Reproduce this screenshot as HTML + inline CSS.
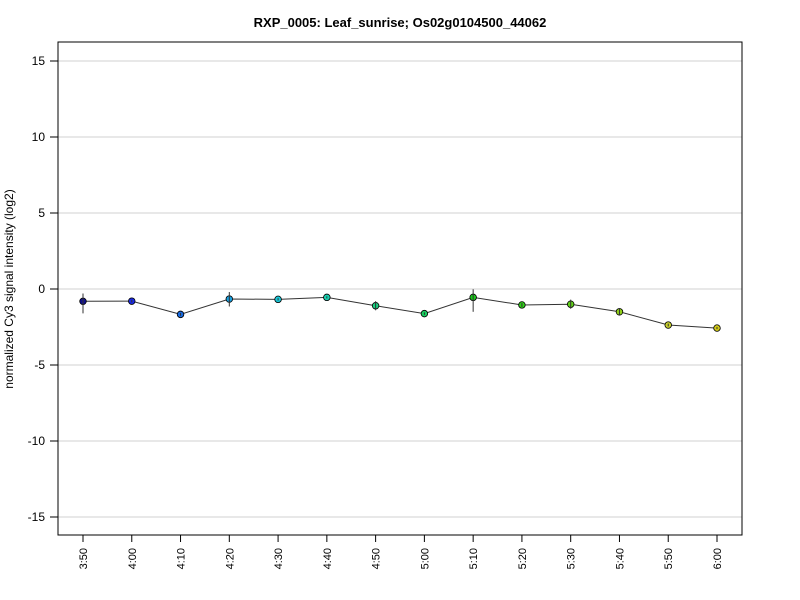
<!DOCTYPE html>
<html><head><meta charset="utf-8"><style>
body{margin:0;background:#fff;}
svg{display:block;font-family:"Liberation Sans",sans-serif;}
</style></head><body>
<svg id="chart" width="800" height="600">
<text x="400" y="27" text-anchor="middle" font-size="13" font-weight="bold">RXP_0005: Leaf_sunrise; Os02g0104500_44062</text>
<text transform="translate(13,289) rotate(-90)" text-anchor="middle" font-size="12">normalized Cy3 signal intensity (log2)</text>
<g id="grid"></g><g id="axes"></g><g id="series"></g>
<rect x="58" y="42" width="684" height="493" fill="none" stroke="#000"/>
</svg>
<script>
const categories=["3:50","4:00","4:10","4:20","4:30","4:40","4:50","5:00","5:10","5:20","5:30","5:40","5:50","6:00"];
const values=[-0.81,-0.8,-1.67,-0.66,-0.68,-0.55,-1.1,-1.62,-0.55,-1.05,-1.0,-1.5,-2.37,-2.57];
const errHigh=[-0.3,-0.72,-1.58,-0.2,-0.6,-0.48,-0.8,-1.54,-0.02,-0.92,-0.7,-1.25,-2.28,-2.5];
const errLow=[-1.6,-0.88,-1.76,-1.15,-0.76,-0.62,-1.4,-1.7,-1.5,-1.18,-1.3,-1.75,-2.46,-2.64];
const colors=["#101090","#1a2ae0","#1a6be0","#19a0e0","#19c8d8","#19d0b0","#19d080","#19d060","#19c81a","#30d019","#60d019","#90d019","#c8d030","#d0c819"];
const yTicks=[-15,-10,-5,0,5,10,15];
const NS="http://www.w3.org/2000/svg";
const x=i=>83+i*(717-83)/(categories.length-1);
const y=v=>289-v*15.2;
function mk(tag,attrs,parent){const e=document.createElementNS(NS,tag);for(const k in attrs)e.setAttribute(k,attrs[k]);parent.appendChild(e);return e;}
const grid=document.getElementById('grid'),axes=document.getElementById('axes'),ser=document.getElementById('series');
yTicks.forEach(t=>{
 const g=mk('line',{x1:58,x2:742,y1:y(t),y2:y(t),stroke:'#d0d0d0'},grid);
 
 
 const tk=mk('line',{x1:50,x2:58,y1:y(t),y2:y(t),stroke:'#000'},axes);
 
 
 const tx=mk('text',{x:45,y:y(t)+4,'text-anchor':'end','font-size':12},axes);
 tx.textContent=t;
 
 
});
const ax=mk('line',{x1:x(0),x2:x(categories.length-1),y1:535,y2:535,stroke:'#000'},axes);


categories.forEach((c,i)=>{
 const tk=mk('line',{x1:x(i),x2:x(i),y1:535,y2:542,stroke:'#000'},axes);
 
 
 const tx=mk('text',{transform:`translate(${x(i)+4},548) rotate(-90)`,'text-anchor':'end','font-size':11},axes);
 tx.textContent=c;
 
 
});
const pl=mk('polyline',{points:values.map((v,i)=>x(i)+','+y(v)).join(' '),fill:'none',stroke:'#333'},ser);


values.forEach((v,i)=>{
 const p=mk('circle',{cx:x(i),cy:y(v),r:3.3,fill:colors[i],stroke:'#000','stroke-width':0.8},ser);
 
 
 const e=mk('line',{x1:x(i),x2:x(i),y1:y(errHigh[i]),y2:y(errLow[i]),stroke:'#333'},ser);
 
 
});
</script>
</body></html>
